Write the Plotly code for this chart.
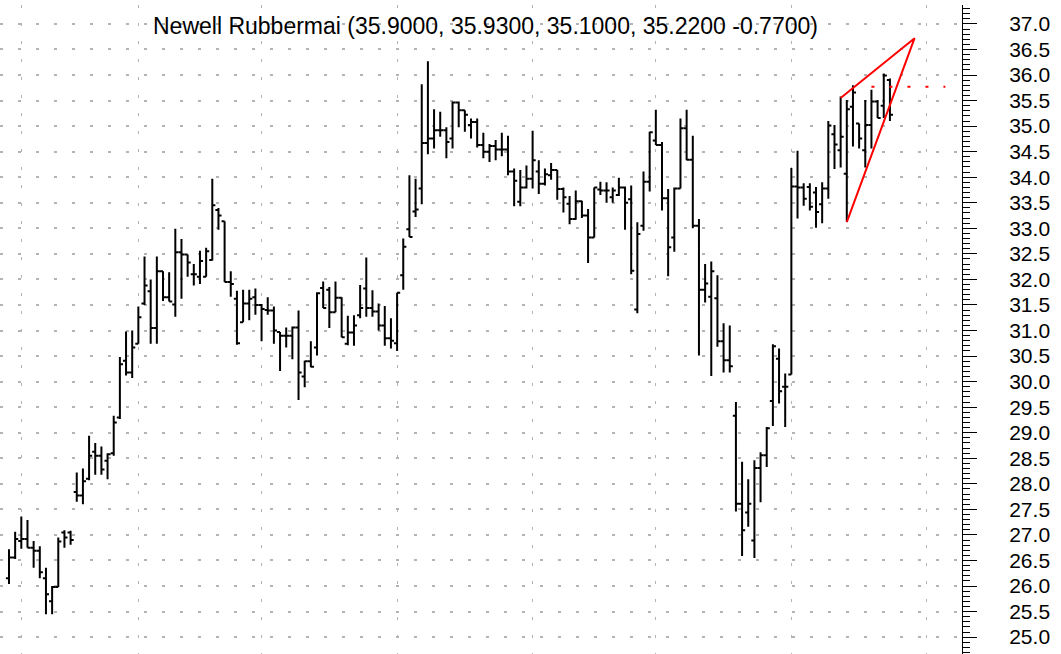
import plotly.graph_objects as go

# daily bars, oldest first
opens = [
    26.15, 26.56, 26.88, 26.92, 26.75, 26.69, 26.15, 25.70, 25.98, 27.05,
    27.05, 27.84, 27.77, 28.10, 28.63, 28.55, 28.45, 28.60, 29.30, 30.41,
    30.18, 30.74, 31.53, 31.77, 31.05, 32.16, 31.65, 31.51, 32.53, 32.49,
    32.10, 32.05, 32.05, 32.38, 33.36, 33.14, 31.95, 31.62, 31.16, 31.53,
    31.65, 31.50, 31.40, 31.39, 30.97, 30.90, 30.90, 31.06, 30.10, 30.40,
    30.67, 31.83, 31.80, 31.36, 31.64, 30.74, 30.96, 31.30, 31.82, 31.44,
    31.37, 31.10, 30.85, 30.75, 32.08, 32.98, 33.33, 33.78, 34.67, 34.76,
    34.92, 34.92, 34.76, 35.46, 35.31, 35.02, 35.08, 34.63, 34.50, 34.61,
    34.54, 34.54, 34.11, 33.52, 33.80, 33.97, 34.11, 33.87, 34.04, 34.14,
    33.77, 33.48, 33.18, 33.53, 33.25, 32.82, 33.76, 33.74, 33.61, 33.65,
    33.80, 33.57, 31.41, 33.05, 33.91, 34.72, 34.63, 33.59, 32.82, 33.78,
    34.96, 34.34, 33.05, 31.80, 31.66, 31.63, 30.79, 30.42, 29.33, 27.61,
    27.44, 26.89, 28.31, 28.56, 29.62, 30.45, 29.90, 30.14, 33.82, 33.80,
    33.81, 33.70, 33.47, 33.78, 34.84, 34.53, 34.07, 35.38, 35.05, 34.53,
    35.02, 35.48, 35.40, 35.90,
]
highs = [
    26.72, 27.06, 27.36, 27.29, 26.88, 26.78, 26.36, 26.00, 26.95, 27.09,
    27.08, 28.22, 28.30, 28.94, 28.80, 28.73, 28.60, 29.33, 30.48, 30.98,
    31.00, 31.47, 32.45, 32.00, 32.45, 32.16, 32.14, 32.99, 32.79, 32.49,
    32.30, 32.56, 32.62, 33.97, 33.40, 33.14, 32.16, 31.78, 31.80, 31.80,
    31.82, 31.52, 31.65, 31.47, 30.97, 31.06, 31.08, 31.39, 30.41, 30.79,
    31.75, 31.96, 31.85, 31.96, 31.65, 31.29, 31.30, 31.89, 32.43, 31.79,
    31.53, 31.48, 31.24, 31.74, 32.80, 34.04, 33.97, 35.82, 36.27, 35.33,
    35.28, 34.98, 35.48, 35.48, 35.31, 35.15, 35.15, 34.87, 34.65, 34.73,
    34.87, 34.81, 34.17, 34.14, 34.23, 34.91, 34.33, 34.17, 34.28, 34.14,
    33.80, 33.63, 33.74, 33.54, 33.38, 33.80, 33.91, 33.90, 33.80, 33.99,
    33.82, 33.84, 33.12, 34.11, 34.89, 35.32, 34.69, 33.77, 33.80, 35.15,
    35.32, 34.81, 33.18, 32.30, 32.35, 32.08, 31.14, 31.10, 29.60, 28.43,
    28.09, 28.46, 28.62, 29.11, 30.73, 30.65, 30.16, 34.18, 34.52, 33.88,
    33.88, 33.81, 33.90, 35.10, 35.02, 35.58, 35.51, 35.80, 35.05, 35.51,
    35.71, 35.51, 36.03, 35.93,
]
lows = [
    26.04, 26.53, 26.73, 26.75, 26.36, 26.15, 25.45, 25.45, 25.98, 26.75,
    26.81, 27.65, 27.60, 28.07, 28.18, 28.18, 28.09, 28.55, 29.27, 30.12,
    30.07, 30.74, 31.50, 30.74, 30.74, 31.58, 31.57, 31.27, 31.62, 32.05,
    31.88, 31.91, 32.05, 32.37, 32.97, 31.95, 31.66, 30.72, 31.16, 31.20,
    31.31, 30.79, 31.31, 30.74, 30.21, 30.67, 30.44, 29.64, 29.89, 30.28,
    30.51, 31.44, 31.05, 31.36, 30.87, 30.71, 30.70, 31.24, 31.27, 31.27,
    31.00, 30.70, 30.65, 30.60, 31.80, 32.83, 33.22, 33.47, 34.45, 34.56,
    34.79, 34.37, 34.56, 34.98, 34.89, 34.76, 34.58, 34.37, 34.30, 34.33,
    34.41, 34.04, 33.43, 33.43, 33.78, 33.78, 33.67, 33.84, 33.95, 33.56,
    33.31, 33.08, 33.17, 33.20, 32.32, 32.82, 33.65, 33.50, 33.50, 33.63,
    32.97, 32.10, 31.34, 32.95, 33.72, 34.63, 33.35, 32.06, 32.54, 33.78,
    34.33, 33.00, 30.51, 31.55, 30.11, 30.68, 30.18, 30.18, 27.46, 26.59,
    27.16, 26.55, 27.64, 28.33, 29.13, 29.57, 29.11, 30.14, 33.19, 33.44,
    33.35, 33.01, 33.10, 33.58, 34.16, 34.19, 33.13, 34.60, 34.56, 34.19,
    34.56, 35.16, 35.16, 35.10,
]
closes = [
    26.56, 26.92, 26.92, 26.75, 26.69, 26.27, 25.84, 25.98, 26.87, 26.95,
    26.90, 27.77, 28.05, 28.55, 28.55, 28.28, 28.58, 29.20, 30.34, 30.18,
    30.67, 31.26, 31.88, 31.05, 32.16, 31.65, 31.57, 32.53, 32.49, 32.33,
    32.10, 32.36, 32.55, 33.45, 33.25, 31.95, 31.91, 30.75, 31.53, 31.62,
    31.50, 31.42, 31.39, 31.00, 30.90, 30.90, 31.06, 30.18, 30.40, 30.29,
    31.73, 31.44, 31.36, 31.64, 30.87, 30.96, 31.10, 31.44, 31.44, 31.37,
    31.10, 30.85, 30.80, 31.74, 32.64, 32.83, 33.37, 34.67, 34.76, 34.92,
    34.92, 34.69, 35.46, 35.31, 35.22, 35.08, 34.63, 34.50, 34.61, 34.54,
    34.54, 34.11, 33.93, 33.80, 33.97, 34.33, 33.87, 34.06, 34.14, 33.77,
    33.61, 33.18, 33.53, 33.25, 32.82, 33.80, 33.74, 33.74, 33.74, 33.80,
    33.50, 32.17, 32.89, 33.91, 34.88, 34.63, 33.59, 32.63, 33.78, 34.96,
    34.34, 33.05, 31.80, 31.92, 32.16, 30.79, 30.42, 30.30, 27.61, 27.09,
    27.61, 28.31, 28.56, 29.09, 30.69, 29.81, 29.90, 33.82, 33.80, 33.58,
    33.42, 33.32, 33.78, 35.01, 34.64, 34.79, 35.33, 35.66, 34.76, 35.02,
    35.48, 35.16, 35.99, 35.22,
]
bar_index = list(range(len(closes)))

# first trading day of each month (bar index)
month_starts = [2, 21, 41, 63, 85, 105, 127, 149]

# rising wedge trendlines: upper from bar 135, lower from bar 136, meeting at apex
wedge_x = [135, 147, 136]
wedge_y = [35.55, 36.72, 33.12]

# breakout level
level_x = [140, 152]
level_y = [35.77, 35.77]

subtitle = "Newell Rubbermai (35.9000, 35.9300, 35.1000, 35.2200 -0.7700)"

FONT = "Liberation Sans, Arial, sans-serif"
GRID = "#b4b4b4"

fig = go.Figure()

fig.add_trace(
    go.Ohlc(
        x=bar_index,
        open=opens,
        high=highs,
        low=lows,
        close=closes,
        increasing={"line": {"color": "black", "width": 2}},
        decreasing={"line": {"color": "black", "width": 2}},
        tickwidth=0.5,
        showlegend=False,
        hoverinfo="skip",
    )
)

fig.add_trace(
    go.Scatter(
        x=wedge_x,
        y=wedge_y,
        mode="lines",
        line={"color": "#ff0000", "width": 2},
        showlegend=False,
        hoverinfo="skip",
    )
)

fig.add_trace(
    go.Scatter(
        x=level_x,
        y=level_y,
        mode="lines",
        line={"color": "#ff0000", "width": 2, "dash": "3px,15px"},
        showlegend=False,
        hoverinfo="skip",
    )
)

fig.update_xaxes(
    range=[-1.46, 154.7],
    rangeslider_visible=False,
    tickvals=month_starts,
    showticklabels=False,
    ticks="",
    showgrid=True,
    gridcolor=GRID,
    gridwidth=1,
    griddash="3px,15px",
    zeroline=False,
    showline=False,
)

fig.update_yaxes(
    side="right",
    range=[24.67, 37.37],
    dtick=0.5,
    tick0=25,
    tickformat=".1f",
    ticks="outside",
    ticklen=14,
    tickwidth=1,
    tickcolor="black",
    ticklabelstandoff=28,
    tickfont={"family": FONT, "size": 21, "color": "black"},
    showline=True,
    linecolor="black",
    linewidth=1,
    showgrid=True,
    gridcolor=GRID,
    gridwidth=2,
    griddash="3px,15px",
    zeroline=False,
    minor={"dtick": 0.1, "ticks": "outside", "ticklen": 7, "tickcolor": "black", "showgrid": False},
)

fig.add_annotation(
    text=subtitle,
    xref="paper",
    yref="paper",
    x=0.505,
    y=0.968,
    xanchor="center",
    yanchor="middle",
    showarrow=False,
    font={"family": FONT, "size": 23, "color": "black"},
)

fig.update_layout(
    width=1061,
    height=654,
    margin={"l": 0, "r": 99, "t": 5, "b": 0},
    paper_bgcolor="white",
    plot_bgcolor="white",
    hovermode=False,
)

fig.write_html(
    "out.html",
    config={"displayModeBar": False},
    post_script="document.body.style.margin='0';",
)
